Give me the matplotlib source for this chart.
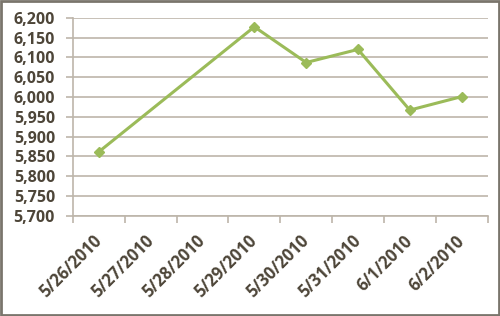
import matplotlib.pyplot as plt
from matplotlib.patches import Rectangle

# --- dati ---
dates = ["5/26/2010", "5/27/2010", "5/28/2010", "5/29/2010",
         "5/30/2010", "5/31/2010", "6/1/2010", "6/2/2010"]
point_idx = [0, 3, 4, 5, 6, 7]
values = [5862, 6177, 6087, 6120, 5967, 6001]
y_ticks = [5700, 5750, 5800, 5850, 5900, 5950, 6000, 6050, 6100, 6150, 6200]

text_col = "#4d4538"
grid_col = "#bdb5aa"
line_col = "#9bbb59"

plt.rcParams['font.family'] = ['Open Sans', 'DejaVu Sans']

fig = plt.figure(figsize=(5, 3.16), dpi=100)
ax = fig.add_axes([0.146, 0.3165, 0.829, 0.6275])

xs = [i + 0.5 for i in point_idx]
ax.plot(xs, values, color=line_col, linewidth=2.2, marker='D', markersize=5,
        markerfacecolor=line_col, markeredgecolor=line_col, zorder=3)

ax.set_xlim(0, len(dates))
ax.set_ylim(y_ticks[0], y_ticks[-1])
ax.set_yticks(y_ticks)
ax.set_yticklabels([f"{v:,}" for v in y_ticks])
ax.yaxis.grid(True, color=grid_col, linewidth=1.2)
ax.set_axisbelow(True)

# tacche ai bordi delle categorie, etichette al centro
ax.set_xticks(range(len(dates) + 1))
ax.set_xticklabels([])
ax.set_xticks([i + 0.5 for i in range(len(dates))], minor=True)
ax.set_xticklabels(dates, minor=True, rotation=45, ha='right', va='center',
                   rotation_mode='anchor')
ax.tick_params(axis='x', which='minor', length=0, pad=16)
ax.tick_params(axis='x', which='major', length=5, color=grid_col, width=1.2)
ax.tick_params(axis='y', length=5, color=grid_col, width=1.2, pad=8)

for lab in ax.get_xticklabels(minor=True):
    lab.set_color(text_col)
    lab.set_fontweight('bold')
    lab.set_fontsize(12)
for lab in ax.get_yticklabels():
    lab.set_color(text_col)
    lab.set_fontweight('bold')
    lab.set_fontsize(11.5)

for s in ['top', 'right']:
    ax.spines[s].set_visible(False)
for s in ['left', 'bottom']:
    ax.spines[s].set_color(grid_col)
    ax.spines[s].set_linewidth(1.2)

# cornice esterna
fig.patches.append(Rectangle((0.002, 0.003), 0.996, 0.994, transform=fig.transFigure,
                             fill=False, edgecolor="#7a756c", linewidth=2))

fig.savefig("out.png", dpi=100)
